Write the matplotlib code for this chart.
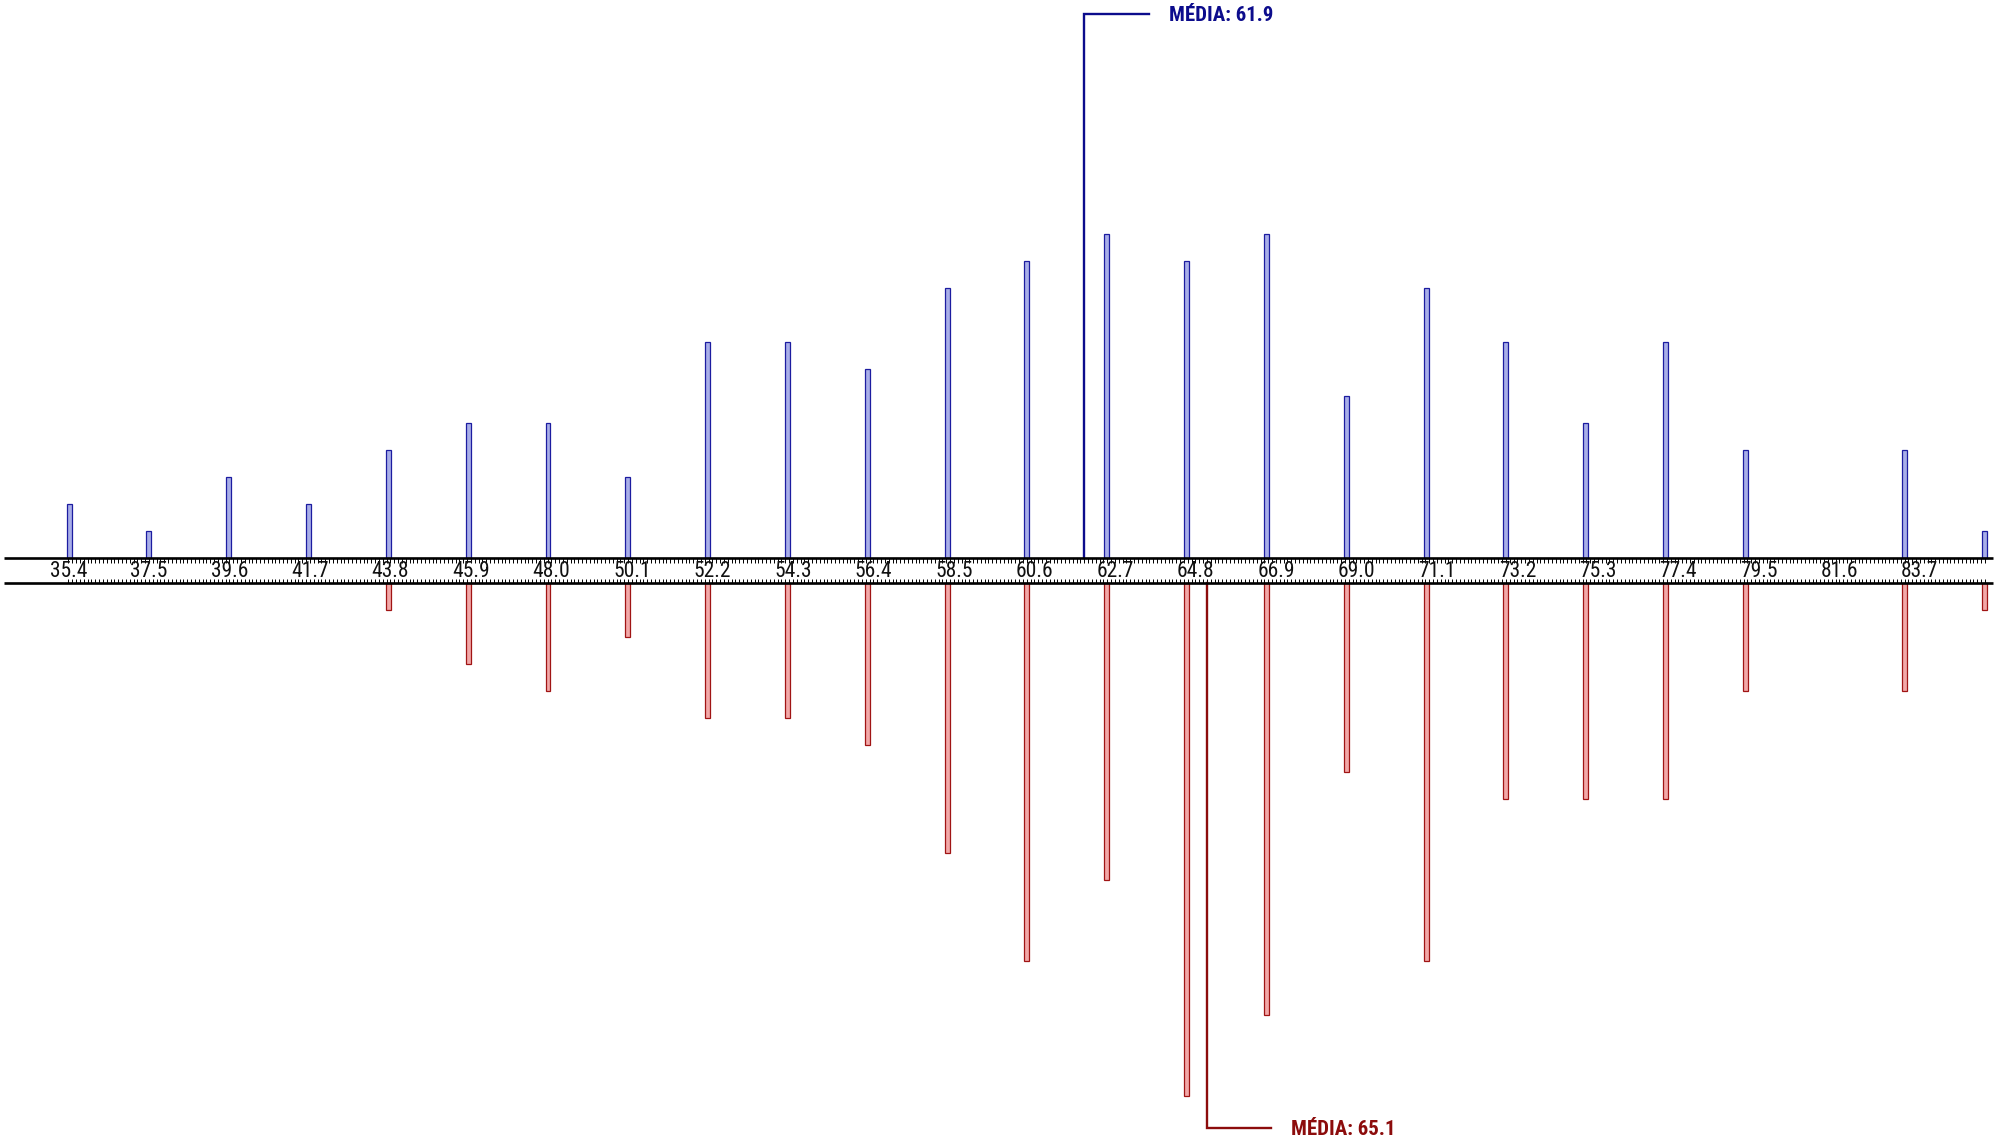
import numpy as np
import matplotlib
matplotlib.use("Agg")
import matplotlib.pyplot as plt
from matplotlib import font_manager

# ---------------- data ----------------
tick_labels = ["35.4", "37.5", "39.6", "41.7", "43.8", "45.9", "48.0", "50.1",
               "52.2", "54.3", "56.4", "58.5", "60.6", "62.7", "64.8", "66.9",
               "69.0", "71.1", "73.2", "75.3", "77.4", "79.5", "81.6", "83.7"]
bar_x = [35.42, 37.50, 39.58, 41.67, 43.75, 45.83, 47.91, 49.99, 52.08,
         54.16, 56.24, 58.32, 60.40, 62.49, 64.57, 66.65, 68.73, 70.82,
         72.90, 74.98, 77.06, 79.14, 81.23, 83.31, 85.39]
blue_counts = [2, 1, 3, 2, 4, 5, 5, 3, 8, 8, 7, 10, 11, 12, 11, 12, 6, 10,
               8, 5, 8, 4, 0, 4, 1]
red_counts = [0, 0, 0, 0, 1, 3, 4, 2, 5, 5, 6, 10, 14, 11, 19, 16, 7, 14,
              8, 8, 8, 4, 0, 4, 1]
blue_mean = 61.9
red_mean = 65.1
mean_prefix = "MÉDIA"

# ---------------- style ----------------
names = {f.name for f in font_manager.fontManager.ttflist}
cond = next((n for n in ["Liberation Sans Narrow", "Roboto Condensed",
                         "Open Sans Condensed", "Noto Sans Condensed",
                         "Liberation Sans"] if n in names), "DejaVu Sans")

BLUE_FILL, BLUE_EDGE, BLUE_LINE = "#a8aee8", "#1c1ca0", "#0c0c8c"
RED_FILL, RED_EDGE, RED_LINE = "#f2a8a8", "#a01414", "#8c0c0c"

fig = plt.figure(figsize=(19.95, 11.43), dpi=100)
ax = fig.add_axes([0, 0, 1, 1])
ax.axis("off")
ax.set_xlim(33.613, 85.661)
ax.set_ylim(-21.66, 20.68)

gap = 0.926          # distance between the two baselines (count units)
bw = 0.13            # bar width (x units)

bx = np.array(bar_x)
bc = np.array(blue_counts)
rc = np.array(red_counts)
mb = bc > 0
mr = rc > 0
ax.bar(bx[mb], bc[mb], width=bw, bottom=0, color=BLUE_FILL,
       edgecolor=BLUE_EDGE, linewidth=0.9, zorder=2)
ax.bar(bx[mr], -rc[mr], width=bw, bottom=-gap, color=RED_FILL,
       edgecolor=RED_EDGE, linewidth=0.9, zorder=2)

# baselines
x0, x1 = 33.73, 85.62
ax.plot([x0, x1], [0, 0], color="black", lw=1.9, zorder=4,
        solid_capstyle="butt")
ax.plot([x0, x1], [-gap, -gap], color="black", lw=1.9, zorder=4,
        solid_capstyle="butt")

# ruler ticks every 0.1
tv = np.arange(354, 855) / 10.0
ax.vlines(tv, -0.16, 0, color="black", lw=0.7, zorder=3)
ax.vlines(tv, -gap, -gap + 0.16, color="black", lw=0.7, zorder=3)

# tick labels
tick_vals = [float(t) for t in tick_labels]
for v, t in zip(tick_vals, tick_labels):
    ax.text(v, -0.69, t, ha="center", va="baseline", fontsize=15.5,
            family=[cond, "DejaVu Sans"], color="#111111", zorder=5)

# mean markers
leg = 1.68
tgap = 0.52
top_y = 20.16
bot_y = -21.09
ax.plot([blue_mean, blue_mean, blue_mean + leg], [0, top_y, top_y],
        color=BLUE_LINE, lw=1.7, zorder=3, solid_joinstyle="miter")
ax.text(blue_mean + leg + tgap, 19.91, f"{mean_prefix}: {blue_mean}",
        ha="left", va="baseline", fontsize=15, fontweight="bold",
        family=[cond, "DejaVu Sans"], color=BLUE_LINE)
ax.plot([red_mean, red_mean, red_mean + leg], [-gap, bot_y, bot_y],
        color=RED_LINE, lw=1.7, zorder=3, solid_joinstyle="miter")
ax.text(red_mean + leg + tgap, -21.36, f"{mean_prefix}: {red_mean}",
        ha="left", va="baseline", fontsize=15, fontweight="bold",
        family=[cond, "DejaVu Sans"], color=RED_LINE)

fig.savefig("out.png", dpi=100)
